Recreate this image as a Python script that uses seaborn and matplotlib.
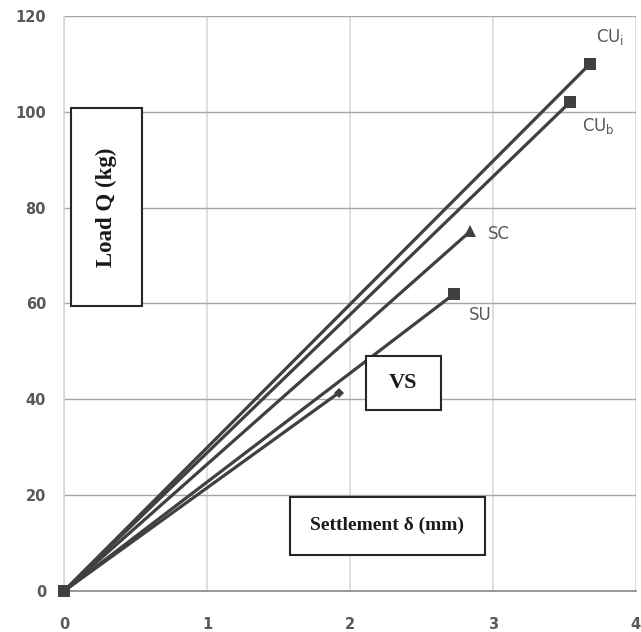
import matplotlib
matplotlib.use("Agg")
import matplotlib.pyplot as plt
import seaborn as sns
import pandas as pd
from matplotlib.patches import Rectangle

series = ["CU_i", "CU_b", "SC", "SU", "VS"]
settlement_end = [3.68, 3.54, 2.84, 2.73, 1.92]
load_end = [110, 102, 75, 62, 41.3]
end_labels = ["CU$_\\mathregular{i}$", "CU$_\\mathregular{b}$", "SC", "SU", ""]
x_ticks = [0, 1, 2, 3, 4]
y_ticks = [0, 20, 40, 60, 80, 100, 120]

rows = []
for s, xe, ye in zip(series, settlement_end, load_end):
    rows.append({"series": s, "settlement": 0.0, "load": 0.0})
    rows.append({"series": s, "settlement": xe, "load": ye})
df = pd.DataFrame(rows)

sns.set_theme(style="white")
plt.rcParams['font.family'] = ['DejaVu Sans']

fig = plt.figure(figsize=(6.41, 6.32), dpi=100)
ax = fig.add_axes([0.1, 0.065, 0.892, 0.91])

line_col = "#404040"
ax.grid(True, axis="x", color="#d9d9d9", lw=1.2)
ax.grid(True, axis="y", color="#a6a6a6", lw=1.0)
ax.set_axisbelow(True)

markers = {"CU_i": "s", "CU_b": "s", "SC": "^", "SU": "s", "VS": "D"}
sns.lineplot(data=df, x="settlement", y="load", hue="series", style="series",
             markers=markers, dashes=False, palette=[line_col] * 5,
             estimator=None, sort=False, legend=False, ax=ax, lw=2.3,
             markersize=8.5, markeredgewidth=0)
for ln in ax.lines:
    ln.set_clip_on(False)
    if ln.get_marker() == "D":
        ln.set_markersize(5)
# origin marker
ax.plot([0], [0], marker="s", ms=9, color=line_col, mew=0, ls="none",
        clip_on=False, zorder=4)

ax.set_xlim(0, 4)
ax.set_ylim(0, 120)
ax.set_xticks(x_ticks)
ax.set_yticks(y_ticks)
ax.set_xlabel("")
ax.set_ylabel("")
ax.tick_params(axis="both", labelsize=10.5, labelcolor="#595959", colors="#a6a6a6",
               length=5, width=1, direction="out")
ax.tick_params(axis="x", pad=14)
ax.tick_params(axis="y", pad=8)
for lab in ax.get_xticklabels() + ax.get_yticklabels():
    lab.set_fontweight("bold")
for sp in ["top", "right"]:
    ax.spines[sp].set_visible(False)
ax.spines["left"].set_color("#d9d9d9")
ax.spines["bottom"].set_color("#868686")
ax.spines["bottom"].set_linewidth(1.2)

# end labels
offsets = [(0.14, 5.5), (0.2, -5), (0.2, -0.5), (0.18, -4.5)]
for lab, xe, ye, (dx, dy) in zip(end_labels, settlement_end, load_end, offsets):
    if lab:
        ax.text(xe + dx, ye + dy, lab, fontsize=12, color="#595959",
                ha="center", va="center")

serif = ["Liberation Serif", "DejaVu Serif"]
boxes = [
    ((0.012, 0.496), 0.124, 0.343, "Load Q (kg)", 90, 16.5),
    ((0.528, 0.315), 0.131, 0.094, "VS", 0, 16),
    ((0.395, 0.063), 0.341, 0.101, "Settlement δ (mm)", 0, 14),
]
for (x0, y0), w, h, txt, rot, fs in boxes:
    ax.add_patch(Rectangle((x0, y0), w, h, transform=ax.transAxes,
                           facecolor="white", edgecolor="#262626", lw=1.5,
                           zorder=5))
    ax.text(x0 + w / 2, y0 + h / 2, txt, transform=ax.transAxes,
            rotation=rot, ha="center", va="center", fontsize=fs,
            fontweight="bold", family=serif, color="#1a1a1a", zorder=6)

fig.savefig("out.png", dpi=100)
